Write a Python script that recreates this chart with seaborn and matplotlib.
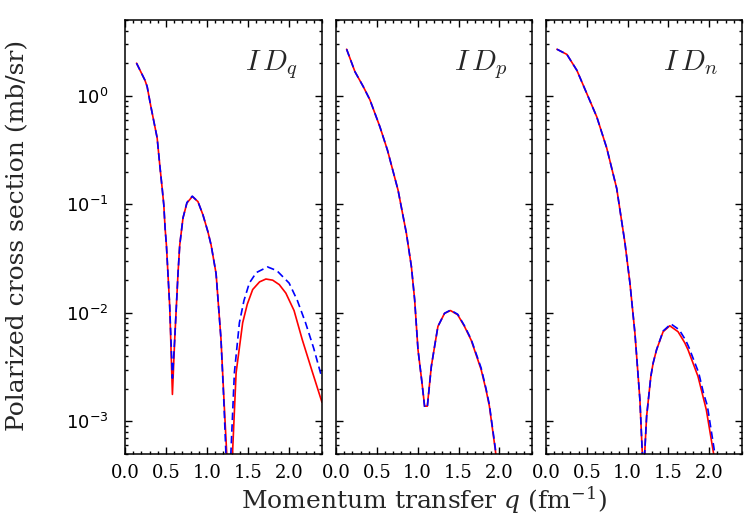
import matplotlib
matplotlib.use("Agg")
import matplotlib.pyplot as plt
import matplotlib.ticker as mticker
import pandas as pd
import seaborn as sns

# ---- data (q in fm^-1, cross section in mb/sr) ----
# panel ID_q
q_idq_red = [0.141, 0.242, 0.27, 0.311, 0.352, 0.392, 0.424, 0.453, 0.473, 0.489,
             0.505, 0.545, 0.578, 0.606, 0.646, 0.667, 0.707, 0.755, 0.82, 0.889,
             0.95, 1.01, 1.05, 1.11, 1.17, 1.21, 1.24, 1.275, 1.31, 1.354,
             1.434, 1.49, 1.556, 1.64, 1.717, 1.80, 1.88, 1.96, 2.06, 2.16,
             2.28, 2.4]
v_idq_red = [2.0, 1.40, 1.22, 0.83, 0.58, 0.41, 0.23, 0.141, 0.099, 0.060,
             0.042, 0.0115, 0.00177, 0.0057, 0.023, 0.042, 0.075, 0.103, 0.118, 0.106,
             0.080, 0.056, 0.042, 0.023, 0.0057, 0.00138, 0.0005, 0.0001, 0.0005, 0.0028,
             0.0081, 0.012, 0.0164, 0.0193, 0.0205, 0.0200, 0.0182, 0.0152, 0.0105, 0.00566,
             0.0029, 0.0015]
q_idq_blue = [0.141, 0.242, 0.27, 0.311, 0.352, 0.392, 0.424, 0.453, 0.473, 0.489,
              0.505, 0.545, 0.578, 0.606, 0.646, 0.667, 0.707, 0.755, 0.82, 0.889,
              0.95, 1.01, 1.05, 1.11, 1.17, 1.205, 1.23, 1.26, 1.29, 1.333,
              1.394, 1.45, 1.515, 1.6, 1.737, 1.85, 2.0, 2.1, 2.2, 2.3,
              2.4]
v_idq_blue = [2.0, 1.40, 1.22, 0.83, 0.58, 0.41, 0.23, 0.141, 0.099, 0.060,
              0.042, 0.0115, 0.0025, 0.0057, 0.023, 0.042, 0.075, 0.104, 0.119, 0.106,
              0.080, 0.056, 0.042, 0.023, 0.0057, 0.0015, 0.0005, 0.0001, 0.0005, 0.0028,
              0.0081, 0.013, 0.0188, 0.0235, 0.0265, 0.0245, 0.0188, 0.013, 0.0081, 0.0047,
              0.0025]

# panel ID_p
q_idp_red = [0.13, 0.232, 0.333, 0.415, 0.537, 0.63, 0.76, 0.862, 0.923, 0.963,
             1.004, 1.053, 1.085, 1.118, 1.167, 1.207, 1.248, 1.329, 1.402, 1.49,
             1.573, 1.655, 1.716, 1.777, 1.837, 1.878, 1.95, 2.02]
v_idp_red = [2.69, 1.67, 1.22, 0.92, 0.52, 0.316, 0.135, 0.054, 0.0267, 0.0132,
             0.00457, 0.00226, 0.00138, 0.00138, 0.0032, 0.0049, 0.0075, 0.0099, 0.0105, 0.0096,
             0.0075, 0.0056, 0.0041, 0.003, 0.00195, 0.00138, 0.00055, 0.0002]
q_idp_blue = q_idp_red
v_idp_blue = [2.69, 1.67, 1.22, 0.92, 0.52, 0.316, 0.135, 0.054, 0.0267, 0.0132,
              0.00457, 0.00226, 0.00135, 0.00135, 0.0032, 0.0049, 0.0075, 0.0099, 0.0106, 0.0097,
              0.0076, 0.0057, 0.0042, 0.0031, 0.002, 0.00142, 0.00057, 0.0002]

# panel ID_n
q_idn_red = [0.134, 0.256, 0.378, 0.5, 0.622, 0.744, 0.866, 0.967, 1.028, 1.089,
             1.15, 1.193, 1.232, 1.284, 1.312, 1.354, 1.434, 1.516, 1.617, 1.699,
             1.739, 1.861, 1.922, 1.963, 2.044, 2.1]
v_idn_red = [2.69, 2.41, 1.72, 1.05, 0.64, 0.33, 0.14, 0.044, 0.0188, 0.0065,
             0.00158, 0.0003, 0.00111, 0.0026, 0.00344, 0.00457, 0.0067, 0.0076, 0.0067, 0.0053,
             0.00457, 0.0026, 0.0017, 0.00128, 0.00055, 0.0003]
q_idn_blue = [0.134, 0.256, 0.378, 0.5, 0.622, 0.744, 0.866, 0.967, 1.028, 1.089,
              1.15, 1.193, 1.232, 1.284, 1.312, 1.354, 1.434, 1.53, 1.63, 1.71,
              1.75, 1.87, 1.93, 1.975, 2.055, 2.11]
v_idn_blue = [2.69, 2.41, 1.72, 1.05, 0.64, 0.33, 0.14, 0.044, 0.0188, 0.0065,
              0.00158, 0.0003, 0.00111, 0.0026, 0.00344, 0.00457, 0.0068, 0.0079, 0.007, 0.0056,
              0.0048, 0.0028, 0.0018, 0.0014, 0.00058, 0.0003]

panel_labels = [r"$I\,D_q$", r"$I\,D_p$", r"$I\,D_n$"]

sns.set_style("ticks")
plt.rcParams["font.family"] = ["DejaVu Serif"]
plt.rcParams["mathtext.fontset"] = "dejavusans"

fig = plt.figure(figsize=(7.47, 5.24), dpi=100)
bottom, height = 0.1336, 0.8282
lefts = [0.1673, 0.4498, 0.7309]
widths = [0.2637, 0.2624, 0.2624]

panels = [
    (q_idq_red, v_idq_red, q_idq_blue, v_idq_blue),
    (q_idp_red, v_idp_red, q_idp_blue, v_idp_blue),
    (q_idn_red, v_idn_red, q_idn_blue, v_idn_blue),
]

for i, (qr, vr, qb, vb) in enumerate(panels):
    ax = fig.add_axes([lefts[i], bottom, widths[i], height])
    red = pd.DataFrame({"q": qr, "v": vr})
    blue = pd.DataFrame({"q": qb, "v": vb})
    sns.lineplot(data=red, x="q", y="v", ax=ax, color="red", lw=1.2)
    sns.lineplot(data=blue, x="q", y="v", ax=ax, color="blue", lw=1.2,
                 linestyle=(0, (4.5, 2.5)))
    ax.set_yscale("log")
    ax.set_xlim(0, 2.4)
    ax.set_ylim(5e-4, 5)
    ax.xaxis.set_major_locator(mticker.MultipleLocator(0.5))
    ax.xaxis.set_minor_locator(mticker.MultipleLocator(0.1))
    ax.xaxis.set_major_formatter(mticker.FormatStrFormatter("%.1f"))
    ax.yaxis.set_major_locator(mticker.LogLocator(base=10, numticks=10))
    ax.yaxis.set_minor_locator(mticker.LogLocator(base=10, subs=range(2, 10), numticks=20))
    ax.yaxis.set_minor_formatter(mticker.NullFormatter())
    ax.tick_params(which="both", direction="in", top=True, right=True,
                   width=1.0, colors="black")
    ax.tick_params(which="major", length=5)
    ax.tick_params(which="minor", length=2.5)
    ax.tick_params(axis="x", labelsize=13, pad=7)
    ax.tick_params(axis="y", labelsize=13, pad=12, labelfontfamily="DejaVu Sans")
    for s in ax.spines.values():
        s.set_linewidth(1.1)
        s.set_color("black")
    ax.set_xlabel("")
    ax.set_ylabel("")
    if i > 0:
        ax.tick_params(axis="y", labelleft=False)
    ax.text(0.875, 0.935, panel_labels[i], transform=ax.transAxes, ha="right", va="top",
            fontsize=21, math_fontfamily="cm")

fig.text(0.567, 0.045, r"Momentum transfer $q$ (fm$^{-1}$)", ha="center", va="center",
         fontsize=18, math_fontfamily="dejavuserif")
fig.text(0.024, 0.55, "Polarized cross section (mb/sr)", ha="center", va="center",
         rotation=90, fontsize=18)

fig.savefig("out.png", dpi=100)
